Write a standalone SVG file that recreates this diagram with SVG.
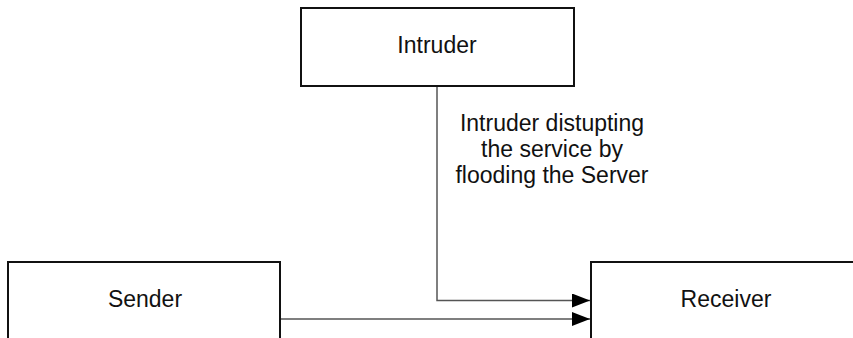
<svg xmlns="http://www.w3.org/2000/svg" width="853" height="338" viewBox="0 0 853 338">
<style>
.box{fill:#fff;stroke:#111;stroke-width:2}
.t{font-family:"Liberation Sans",Arial,sans-serif;font-size:23px;fill:#111;text-anchor:middle}
.c{fill:none;stroke:#555;stroke-width:1.5}
</style>
<defs>
<marker id="ah" markerWidth="18" markerHeight="14" refX="18" refY="7" orient="auto" markerUnits="userSpaceOnUse">
<path d="M0,0 L18,7 L0,14 Z" fill="#000"/>
</marker>
</defs>
<rect width="853" height="338" fill="#fff"/>
<g id="connectors">
<polyline class="c" points="437,86 437,300.5 590,300.5" marker-end="url(#ah)"/>
<line class="c" x1="280" y1="319" x2="590" y2="319" marker-end="url(#ah)"/>
<text class="t" x="552" y="131">Intruder distupting</text>
<text class="t" x="552" y="157">the service by</text>
<text class="t" x="552" y="183">flooding the Server</text>
</g>
<g id="intruder">
<rect class="box" x="301" y="8" width="273" height="78"/>
<text class="t" x="437" y="53">Intruder</text>
</g>
<g id="sender">
<rect class="box" x="8" y="262" width="272" height="90"/>
<text class="t" x="145" y="307">Sender</text>
</g>
<g id="receiver">
<rect class="box" x="591" y="262" width="280" height="90"/>
<text class="t" x="726" y="307">Receiver</text>
</g>
</svg>
